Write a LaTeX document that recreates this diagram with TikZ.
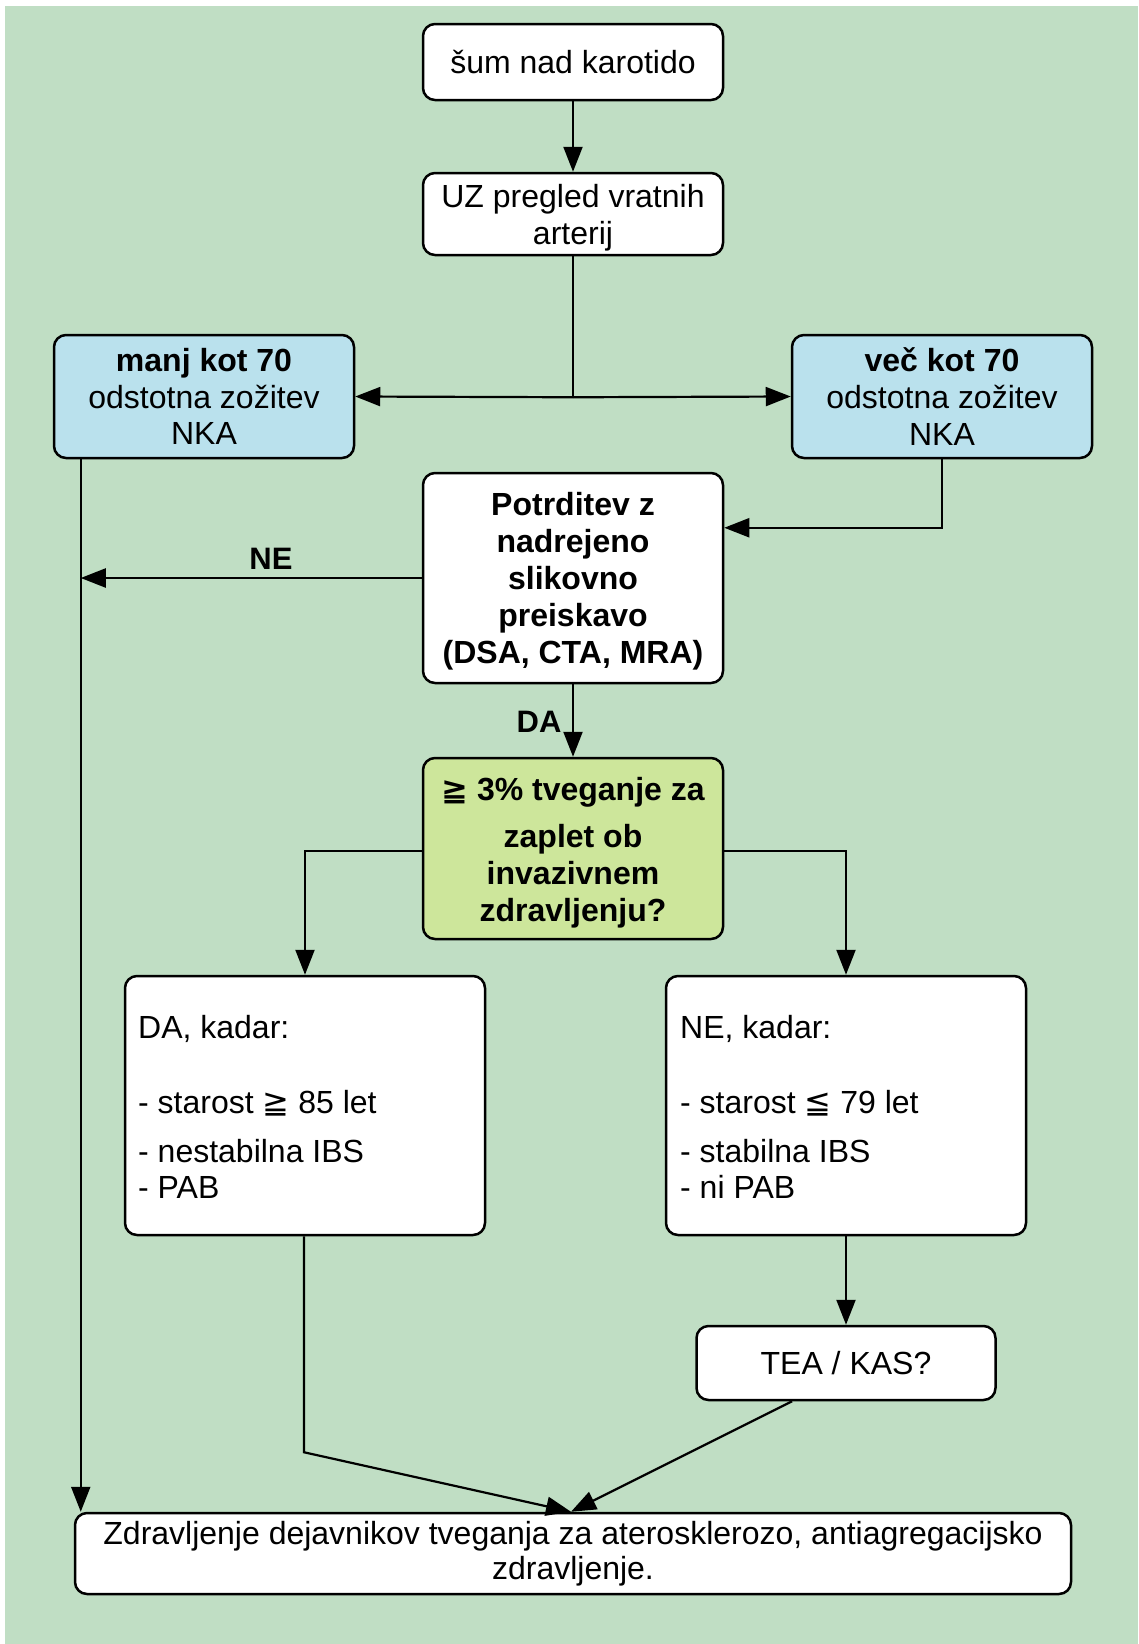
\documentclass[tikz,border=0pt]{standalone}
\usepackage{fontspec}
\setmainfont{Liberation Sans}
\newfontfamily\dvs{DejaVu Sans}
\usetikzlibrary{arrows.meta,calc}
\definecolor{bgc}{RGB}{192,222,196}
\definecolor{bluec}{RGB}{186,225,237}
\definecolor{greenc}{RGB}{205,230,155}
\begin{document}
\begin{tikzpicture}[x=1pt,y=-1pt,
  box/.style={draw=black,line width=2.5pt,rounded corners=12pt,fill=white,inner sep=0pt,align=center,font=\fontsize{32}{36.8}\selectfont},
  conn/.style={line width=2.2pt,-{Triangle[length=25pt,width=19pt]}},
  plain/.style={line width=2.2pt},
  lbl/.style={font=\fontsize{31}{36}\selectfont\bfseries,inner sep=0pt,anchor=base},
  txt/.style={font=\fontsize{32}{36.8}\selectfont,inner sep=0pt,anchor=base west}]
\useasboundingbox (0,0) rectangle (1138,1644);
\fill[bgc] (5,6) rectangle (1138,1644);

% boxes
\node[box,minimum width=300pt,minimum height=76pt] (b1) at (573,62) {šum nad karotido};
\node[box,minimum width=300pt,minimum height=82pt] (b2) at (573,214) {\rule{0pt}{30pt}UZ pregled vratnih\\ arterij};
\node[box,fill=bluec,minimum width=300pt,minimum height=123pt] (bl) at (204,396.5) {\textbf{manj kot 70}\\ odstotna zožitev\\ NKA};
\node[box,fill=bluec,minimum width=300pt,minimum height=123pt] (br) at (942,396.5) {\textbf{več kot 70}\\ odstotna zožitev\\ NKA};
\node[box,minimum width=300pt,minimum height=210pt,font=\fontsize{32}{37}\selectfont\bfseries] (pot) at (573,578) {\rule{0pt}{30pt}Potrditev z\\ nadrejeno\\ slikovno\\ preiskavo\\ (DSA, CTA, MRA)};
\node[box,fill=greenc,minimum width=300pt,minimum height=181pt,font=\fontsize{32}{37}\selectfont\bfseries] (q) at (573,848.5) {\rule{0pt}{31pt}{\dvs ≧} 3\% tveganje za\\[10pt] zaplet ob\\ invazivnem\\ zdravljenju?};
\node[box,minimum width=360pt,minimum height=259pt] (da) at (305,1105.5) {};
\node[box,minimum width=360pt,minimum height=259pt] (ne) at (846,1105.5) {};
\node[box,minimum width=299pt,minimum height=74pt] (tea) at (846,1363) {TEA / KAS?};
\node[box,minimum width=996pt,minimum height=81pt,font=\fontsize{32}{35}\selectfont] (fin) at (573,1553.5) {Zdravljenje dejavnikov tveganja za aterosklerozo, antiagregacijsko\\ zdravljenje.};

% texts inside the DA / NE boxes
\node[txt] (da1) at (138,1038) {DA, kadar:};
\node[txt] (da2) at (138,1113) {- starost {\dvs ≧} 85 let};
\node[txt] (da3) at (138,1162) {- nestabilna IBS};
\node[txt] (da4) at (138,1198) {- PAB};
\node[txt] (ne1) at (680,1038) {NE, kadar:};
\node[txt] (ne2) at (680,1113) {- starost {\dvs ≦} 79 let};
\node[txt] (ne3) at (680,1162) {- stabilna IBS};
\node[txt] (ne4) at (680,1198) {- ni PAB};

% helper coordinates
\coordinate (split) at ($(b2.south)+(0,141)$);
\coordinate (potin) at ($(pot.north east)+(0,56)$);
\coordinate (lefttop) at ($(bl.south west)+(28,0)$);
\coordinate (daknee) at ($(da.south)+(-1,216)$);
\coordinate (teaout) at ($(tea.south)+(-54,0)$);

% connectors
\draw[conn] (b1) -- (b2);
\draw[plain] (b2.south) -- (split);
\draw[conn] (split) -- (bl.east);
\draw[conn] (split) -- (br.west);
\draw[conn] (br.south) |- (potin);
\draw[conn] (lefttop) -- (lefttop |- fin.north);
\draw[conn] (pot.west) -- (pot.west -| lefttop);
\node[lbl] (lne) at (271,569) {NE};
\draw[conn] (pot.south) -- (q.north);
\node[lbl] (lda) at (539,732) {DA};
\draw[conn] ($(q.west)+(0,2.5)$) -| (da.north);
\draw[conn] ($(q.east)+(0,2.5)$) -| (ne.north);
\draw[conn] (ne.south) -- (tea.north);
\draw[conn] ($(da.south)+(-1,0)$) -- (daknee) -- ($(fin.north)+(-2,0)$);
\draw[conn] (teaout) -- ($(fin.north)+(-2,0)$);
\end{tikzpicture}
\end{document}
